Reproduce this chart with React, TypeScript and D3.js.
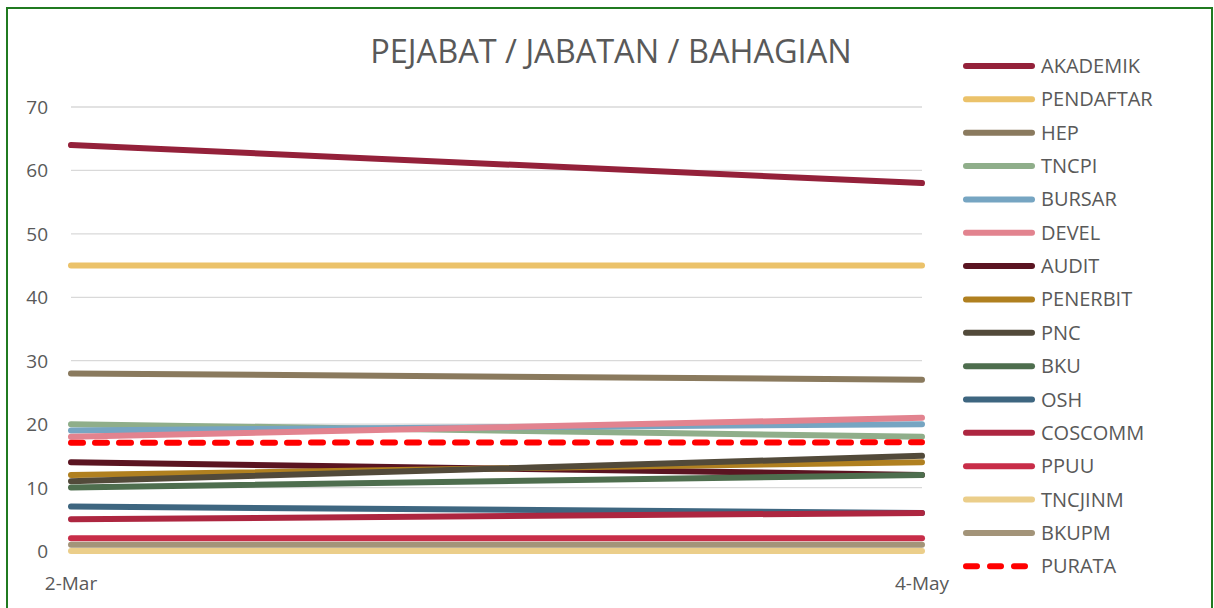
import React from 'react';
import * as d3 from 'd3';

// chart data
const dates = ['2-Mar', '4-May'];
const seriesNames = ['AKADEMIK', 'PENDAFTAR', 'HEP', 'TNCPI', 'BURSAR', 'DEVEL', 'AUDIT', 'PENERBIT', 'PNC', 'BKU', 'OSH', 'COSCOMM', 'PPUU', 'TNCJINM', 'BKUPM', 'PURATA'];
const akademik = [64, 58];
const pendaftar = [45, 45];
const hep = [28, 27];
const tncpi = [20, 18];
const bursar = [19, 20];
const devel = [18, 21];
const audit = [14, 12];
const penerbit = [12, 14];
const pnc = [11, 15];
const bku = [10, 12];
const osh = [7, 6];
const coscomm = [5, 6];
const ppuu = [2, 2];
const tncjinm = [0, 0];
const bkupm = [1, 1];
const purata = [17.07, 17.13];
const yTicks = [0, 10, 20, 30, 40, 50, 60, 70];

const colors = ['#94213A', '#EBC26A', '#8A7A5E', '#8FAE8A', '#76A5C2', '#E2838F', '#5A1421', '#B08020', '#524A3A', '#4E6E4E', '#3E6680', '#AD2640', '#C82D48', '#EBCE8A', '#A39479', '#FF0000'];

const values = [akademik, pendaftar, hep, tncpi, bursar, devel, audit, penerbit, pnc, bku, osh, coscomm, ppuu, tncjinm, bkupm, purata];

const W = 1214;
const H = 608;
const font = '"Open Sans", sans-serif';

export default function App() {
  const x = d3.scalePoint<string>().domain(dates).range([71, 922]);
  const y = d3.scaleLinear().domain([0, 70]).range([551, 107]);
  const line = d3.line<number>().x((_, i) => x(dates[i]) as number).y(d => y(d));

  return (
    <svg width={W} height={H} style={{ position: 'absolute', left: 0, top: 0, background: '#fff' }}>
      <rect x={7} y={8} width={1205} height={620} fill="#fff" stroke="#207A20" strokeWidth={2} />
      <text x={611} y={63} textAnchor="middle" fontFamily={font} fontSize={32.5} fill="#595959">
        PEJABAT / JABATAN / BAHAGIAN
      </text>

      {yTicks.map(t => (
        <g key={t}>
          <line x1={71} x2={922} y1={y(t)} y2={y(t)} stroke="#D9D9D9" strokeWidth={1.3} />
          <text x={48} y={y(t) + 7} textAnchor="end" fontFamily={font} fontSize={19} fill="#595959">{t}</text>
        </g>
      ))}

      {dates.map(d => (
        <text key={d} x={x(d)} y={590} textAnchor="middle" fontFamily={font} fontSize={19} fill="#595959">{d}</text>
      ))}

      {values.map((v, i) => (
        <path key={seriesNames[i]} d={line(v) || ''} fill="none" stroke={colors[i]}
          strokeWidth={6} strokeLinecap="round"
          strokeDasharray={seriesNames[i] === 'PURATA' ? '12 12' : undefined} />
      ))}

      {seriesNames.map((n, i) => {
        const ly = 66 + i * 33.35;
        return (
          <g key={n}>
            <line x1={966} x2={1032} y1={ly} y2={ly} stroke={colors[i]} strokeWidth={6}
              strokeLinecap="round" strokeDasharray={n === 'PURATA' ? '11 13' : undefined} />
            <text x={1041} y={ly + 7} fontFamily={font} fontSize={20} fill="#595959">{n}</text>
          </g>
        );
      })}
    </svg>
  );
}
